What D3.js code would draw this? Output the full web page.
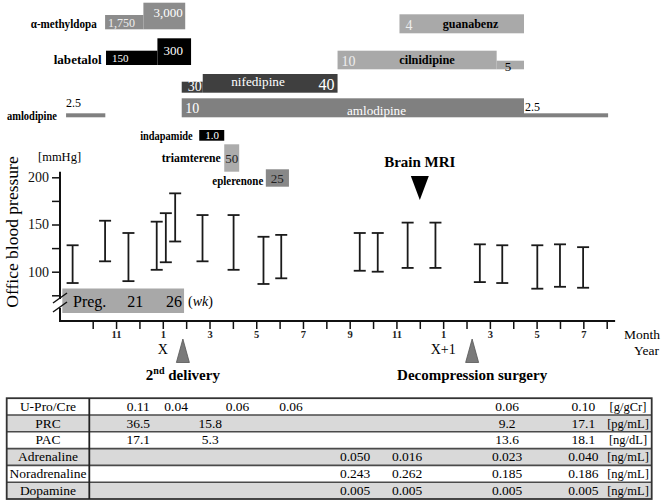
<!DOCTYPE html>
<html>
<head>
<meta charset="utf-8">
<script src="https://cdn.jsdelivr.net/npm/d3@7"></script>
<style>
  body { margin: 0; background: #fff; }
  svg text { font-family: "Liberation Serif", "Times New Roman", "DejaVu Serif", serif !important; }
</style>
</head>
<body>
<svg id="chart" width="661" height="503" font-family="Liberation Serif, Times New Roman, serif"></svg>
<script>
// ---- data ----
// time is in months from January of year X (0 = Jan X, 12 = Jan X+1)
const monthTicks = d3.range(-3, 20);
const yTicks = [75, 100, 125, 150, 175, 200];

// office BP ranges: [time, systolic, diastolic]
const bpTimes = [-3.86, -2.47, -1.47, -0.26, 0.13, 0.53, 1.70, 3.03, 4.31, 5.07,
                 8.43, 9.20, 10.48, 11.67, 13.57, 14.53, 16.03, 17.00, 17.99];
const bpSys = [128, 154, 141, 153, 162, 183, 160, 160, 137, 139,
               141, 141, 152, 152, 129, 128, 128, 129, 126];
const bpDia = [88, 111, 90, 102, 110, 132, 111, 102, 87, 93,
               101, 100, 104, 104, 89, 88, 82, 84, 83];

// medication segments: [drug, start, end, dose]
const drugSegs = [
  ["α-methyldopa", -2.47, -0.83, "1,750"],
  ["α-methyldopa", -0.83, 0.96, "3,000"],
  ["labetalol", -2.43, -0.23, "150"],
  ["labetalol", -0.23, 1.21, "300"],
  ["nifedipine", 0.81, 1.71, "30"],
  ["nifedipine", 1.71, 7.48, "40"],
  ["amlodipine", -4.14, -2.46, "2.5"],
  ["amlodipine", 0.81, 15.46, "10"],
  ["amlodipine", 15.46, 19.06, "2.5"],
  ["guanabenz", 10.13, 15.46, "4"],
  ["cilnidipine", 7.48, 14.29, "10"],
  ["cilnidipine", 14.29, 15.46, "5"],
  ["indapamide", 1.56, 2.63, "1.0"],
  ["triamterene", 2.63, 3.27, "50"],
  ["eplerenone", 4.41, 5.40, "25"]
];

const pregWeeks = [21, 26];
const pregWeekTimes = [-1.18, 0.48];
const pregStart = -4.3, pregEnd = 0.91;

const events = [
  {label: "2nd delivery", t: 0.86},
  {label: "Decompression surgery", t: 13.24}
];
const mriTime = 11.0;

// lab table
const labTimes = [-1.05, 0.57, 2.03, 3.2, 5.49, 8.23, 10.46, 14.74, 18.0];
const labNames = ["U-Pro/Cre", "PRC", "PAC", "Adrenaline", "Noradrenaline", "Dopamine"];
const labUnits = ["[g/gCr]", "[pg/mL]", "[ng/dL]", "[ng/mL]", "[ng/mL]", "[ng/mL]"];
const labValues = [
  ["0.11", "0.04", null, "0.06", "0.06", null, null, "0.06", "0.10"],
  ["36.5", null, "15.8", null, null, null, null, "9.2", "17.1"],
  ["17.1", null, "5.3", null, null, null, null, "13.6", "18.1"],
  [null, null, null, null, null, "0.050", "0.016", "0.023", "0.040"],
  [null, null, null, null, null, "0.243", "0.262", "0.185", "0.186"],
  [null, null, null, null, null, "0.005", "0.005", "0.005", "0.005"]
];

// ---- layout ----
const FONT = "Liberation Serif, Times New Roman, serif";
const svg = d3.select("#chart");
const x = d3.scaleLinear().domain([-3, 19]).range([92.7, 606.7]);
const y = d3.scaleLinear().domain([100, 200]).range([271.7, 177.3]);
const axisY = 321, axisX0 = 60;

// drug bar geometry (per segment index): top, bottom, fill
const segStyle = [
  {top: 15,   bot: 29.3,  fill: "#8c8c8c"},
  {top: 2.7,  bot: 29.3,  fill: "#8c8c8c"},
  {top: 50.7, bot: 65,    fill: "#000"},
  {top: 38.3, bot: 65,    fill: "#000"},
  {top: 81.7, bot: 92.7,  fill: "#3f3f3f"},
  {top: 74,   bot: 92.7,  fill: "#3f3f3f"},
  {top: 113.3, bot: 117.3, fill: "#808080"},
  {top: 98.3, bot: 117.3, fill: "#808080"},
  {top: 113.3, bot: 117.3, fill: "#808080"},
  {top: 14.3, bot: 33.3,  fill: "#a9a9a9"},
  {top: 50.7, bot: 69.3,  fill: "#a9a9a9"},
  {top: 60.7, bot: 69.3,  fill: "#a9a9a9"},
  {top: 130,  bot: 140.7, fill: "#000"},
  {top: 144.3, bot: 171.7, fill: "#acacac"},
  {top: 169.3, bot: 186.7, fill: "#888"}
];

svg.append("g").selectAll("rect")
  .data(drugSegs)
  .join("rect")
  .attr("x", d => x(d[1]))
  .attr("width", d => x(d[2]) - x(d[1]))
  .attr("y", (d, i) => segStyle[i].top)
  .attr("height", (d, i) => segStyle[i].bot - segStyle[i].top)
  .attr("fill", (d, i) => segStyle[i].fill);

// dose labels: [dx from start, baseline, size, colour, anchor]
const doseText = [
  [3, 26.7, 12, "#eee", "start"],
  [10, 16.7, 13, "#fff", "start"],
  [6, 62, 11, "#fff", "start"],
  [6, 55, 13, "#fff", "start"],
  [6, 90.5, 14, "#fff", "start"],
  [-3, 90, 16, "#fff", "end"],
  [0, 107, 12, "#000", "start"],
  [3.5, 113, 14, "#fff", "start"],
  [1, 111, 12, "#000", "start"],
  [6, 30, 14, "#eee", "start"],
  [4, 65.5, 14, "#eee", "start"],
  [8, 71, 13, "#000", "start"],
  [13, 139, 11, "#fff", "middle"],
  [7.5, 163, 13, "#222", "middle"],
  [11.5, 183, 13, "#222", "middle"]
];

svg.append("g").selectAll("text")
  .data(drugSegs)
  .join("text")
  .attr("x", (d, i) => doseText[i][4] === "end" ? x(d[2]) + doseText[i][0] : x(d[1]) + doseText[i][0])
  .attr("y", (d, i) => doseText[i][1])
  .attr("font-size", (d, i) => doseText[i][2])
  .attr("fill", (d, i) => doseText[i][3])
  .attr("text-anchor", (d, i) => doseText[i][4])
  .text(d => d[3]);

// drug names (w = rendered width in px)
const nameLabels = [
  {t: "α-methyldopa", x: 96.7, y: 27.5, a: "end", c: "#000", w: 66},
  {t: "labetalol", x: 101.7, y: 64, a: "end", c: "#000", w: 48},
  {t: "amlodipine", x: 57, y: 120, a: "end", c: "#000", w: 50},
  {t: "indapamide", x: 192.7, y: 139.5, a: "end", c: "#000", w: 52.5},
  {t: "triamterene", x: 220.7, y: 162, a: "end", c: "#000", w: 59},
  {t: "eplerenone", x: 263.3, y: 184.5, a: "end", c: "#000", w: 51},
  {t: "nifedipine", x: 258, y: 86, a: "middle", c: "#fff", w: 53.5},
  {t: "amlodipine", x: 376.5, y: 114.5, a: "middle", c: "#fff", w: 59},
  {t: "guanabenz", x: 470.5, y: 27.5, a: "middle", c: "#000", w: 55.5},
  {t: "cilnidipine", x: 427, y: 64, a: "middle", c: "#000", w: 55.5}
];
svg.append("g").selectAll("text")
  .data(nameLabels)
  .join("text")
  .attr("x", d => d.x).attr("y", d => d.y)
  .attr("text-anchor", d => d.a)
  .attr("fill", d => d.c)
  .attr("font-size", (d, i) => i >= 6 ? 13.5 : 12)
  .attr("font-weight", (d, i) => i >= 6 && i <= 7 ? "normal" : "bold")
  .attr("textLength", d => d.w)
  .attr("lengthAdjust", "spacingAndGlyphs")
  .text(d => d.t);

// ---- pregnancy bar ----
const preg = svg.append("g");
preg.append("rect")
  .attr("x", x(pregStart)).attr("y", 288.5)
  .attr("width", x(pregEnd) - x(pregStart)).attr("height", 24.5)
  .attr("fill", "#a8a8a8");
preg.append("text").attr("x", 73).attr("y", 307).attr("font-size", 16).text("Preg.");
preg.selectAll("text.wk")
  .data(pregWeeks)
  .join("text").attr("class", "wk")
  .attr("x", (d, i) => x(pregWeekTimes[i]))
  .attr("y", 307).attr("font-size", 16).attr("text-anchor", "middle")
  .text(d => d);
const wk = preg.append("text").attr("x", 188).attr("y", 306).attr("font-size", 14);
wk.append("tspan").text("(");
wk.append("tspan").attr("font-style", "italic").text("wk");
wk.append("tspan").text(")");

// ---- axes ----
const yAxisG = svg.append("g").attr("transform", `translate(${axisX0},0)`);
yAxisG.call(d3.axisLeft(y).tickValues(yTicks).tickSize(8).tickPadding(3)
  .tickFormat(d => d % 50 === 0 ? d : ""));
yAxisG.attr("font-family", FONT);
yAxisG.select(".domain").remove();
yAxisG.selectAll(".tick line").attr("stroke", "#111").attr("stroke-width", 1.5);
yAxisG.selectAll(".tick text").attr("font-size", 14).attr("fill", "#111");

const axisPen = {stroke: "#111", w: 2};
svg.append("line").attr("x1", axisX0).attr("x2", axisX0)
  .attr("y1", y(206)).attr("y2", 299)
  .attr("stroke", axisPen.stroke).attr("stroke-width", axisPen.w);
svg.append("line").attr("x1", axisX0).attr("x2", axisX0)
  .attr("y1", 308).attr("y2", axisY)
  .attr("stroke", axisPen.stroke).attr("stroke-width", axisPen.w);
[298, 307].forEach(yy => {
  svg.append("line").attr("x1", 53).attr("x2", 67)
    .attr("y1", yy + 5).attr("y2", yy - 5)
    .attr("stroke", "#111").attr("stroke-width", 1.5);
});

const xAxisG = svg.append("g").attr("transform", `translate(0,${axisY})`);
xAxisG.call(d3.axisBottom(x).tickValues(monthTicks).tickSize(8).tickPadding(2)
  .tickFormat(d => {
    const m = ((d % 12) + 12) % 12 + 1;
    return m % 2 === 1 ? m : "";
  }));
xAxisG.attr("font-family", FONT);
xAxisG.select(".domain").remove();
xAxisG.selectAll(".tick line").attr("stroke", "#111").attr("stroke-width", 1.5);
xAxisG.selectAll(".tick text").attr("font-size", 10.5).attr("font-weight", "bold")
  .attr("fill", "#222");
svg.append("line").attr("x1", axisX0 - 1).attr("x2", x(19.36))
  .attr("y1", axisY).attr("y2", axisY)
  .attr("stroke", axisPen.stroke).attr("stroke-width", axisPen.w);

svg.append("text").attr("x", x(0)).attr("y", 354).attr("font-size", 14)
  .attr("text-anchor", "middle").text("X");
svg.append("text").attr("x", x(12)).attr("y", 354).attr("font-size", 14)
  .attr("text-anchor", "middle").text("X+1");
svg.append("text").attr("x", 660).attr("y", 339).attr("font-size", 13.5)
  .attr("text-anchor", "end").text("Month");
svg.append("text").attr("x", 659).attr("y", 355).attr("font-size", 13.5)
  .attr("text-anchor", "end").text("Year");

svg.append("text").attr("transform", "translate(18,232) rotate(-90)")
  .attr("text-anchor", "middle").attr("font-size", 17.5).text("Office blood pressure");
svg.append("text").attr("x", 38).attr("y", 161).attr("font-size", 12.5).text("[mmHg]");

// ---- BP range bars ----
const bp = svg.append("g").attr("stroke", "#1a1a1a").attr("stroke-width", 1.8);
const bpIdx = d3.range(bpTimes.length);
bp.selectAll("line.v").data(bpIdx).join("line").attr("class", "v")
  .attr("x1", i => x(bpTimes[i])).attr("x2", i => x(bpTimes[i]))
  .attr("y1", i => y(bpSys[i])).attr("y2", i => y(bpDia[i]));
bp.selectAll("line.top").data(bpIdx).join("line").attr("class", "top")
  .attr("x1", i => x(bpTimes[i]) - 6).attr("x2", i => x(bpTimes[i]) + 6)
  .attr("y1", i => y(bpSys[i])).attr("y2", i => y(bpSys[i]));
bp.selectAll("line.bot").data(bpIdx).join("line").attr("class", "bot")
  .attr("x1", i => x(bpTimes[i]) - 6).attr("x2", i => x(bpTimes[i]) + 6)
  .attr("y1", i => y(bpDia[i])).attr("y2", i => y(bpDia[i]));

// ---- event markers ----
const mx = x(mriTime);
svg.append("path").attr("d", `M${mx - 9},176 L${mx + 9},176 L${mx},200 Z`).attr("fill", "#000");
svg.append("text").attr("x", mx).attr("y", 167).attr("text-anchor", "middle")
  .attr("font-size", 15).attr("font-weight", "bold").text("Brain MRI");

events.forEach(ev => {
  const ex = x(ev.t);
  svg.append("path").attr("d", `M${ex},339 L${ex + 6.5},362.5 L${ex - 6.5},362.5 Z`)
    .attr("fill", "#7a7a7a").attr("stroke", "#555").attr("stroke-width", 0.8);
  const t = svg.append("text").attr("x", ex).attr("y", 380).attr("text-anchor", "middle")
    .attr("font-size", 15).attr("font-weight", "bold");
  if (ev.label.startsWith("2nd")) {
    t.append("tspan").text("2");
    t.append("tspan").attr("font-size", 10).attr("dy", -6).text("nd");
    t.append("tspan").attr("dy", 6).text(" delivery");
  } else {
    t.text(ev.label);
  }
});

// ---- lab table ----
const tbl = svg.append("g");
const tX0 = 6.7, tX1 = 651.7, tY0 = 398.2, rowH = 16.8, colDiv = 89.3;
tbl.selectAll("rect.row").data(labNames).join("rect").attr("class", "row")
  .attr("x", tX0).attr("width", tX1 - tX0)
  .attr("y", (d, i) => tY0 + i * rowH).attr("height", rowH)
  .attr("fill", (d, i) => i % 2 ? "#d9d9d9" : "#fff");
tbl.selectAll("line.sep").data(d3.range(1, labNames.length)).join("line").attr("class", "sep")
  .attr("x1", tX0).attr("x2", tX1)
  .attr("y1", i => tY0 + i * rowH).attr("y2", i => tY0 + i * rowH)
  .attr("stroke", "#4a4a4a").attr("stroke-width", 1.6);
tbl.append("rect").attr("x", tX0).attr("y", tY0)
  .attr("width", tX1 - tX0).attr("height", rowH * labNames.length)
  .attr("fill", "none").attr("stroke", "#333").attr("stroke-width", 1.8);
tbl.append("line").attr("x1", colDiv).attr("x2", colDiv)
  .attr("y1", tY0).attr("y2", tY0 + rowH * labNames.length)
  .attr("stroke", "#222").attr("stroke-width", 1.8);

tbl.selectAll("text.name").data(labNames).join("text").attr("class", "name")
  .attr("x", (tX0 + colDiv) / 2).attr("y", (d, i) => tY0 + i * rowH + 12.6)
  .attr("text-anchor", "middle").attr("font-size", 13.5).text(d => d);
tbl.selectAll("text.unit").data(labUnits).join("text").attr("class", "unit")
  .attr("x", 628).attr("y", (d, i) => tY0 + i * rowH + 12.6)
  .attr("text-anchor", "middle").attr("font-size", 12.5).text(d => d);

labValues.forEach((row, r) => {
  tbl.selectAll(`text.v${r}`).data(row.map((v, c) => ({v, c})).filter(d => d.v !== null))
    .join("text").attr("class", `v${r}`)
    .attr("x", d => x(labTimes[d.c])).attr("y", tY0 + r * rowH + 12.6)
    .attr("text-anchor", "middle").attr("font-size", 13.5)
    .text(d => d.v);
});
</script>
</body>
</html>
